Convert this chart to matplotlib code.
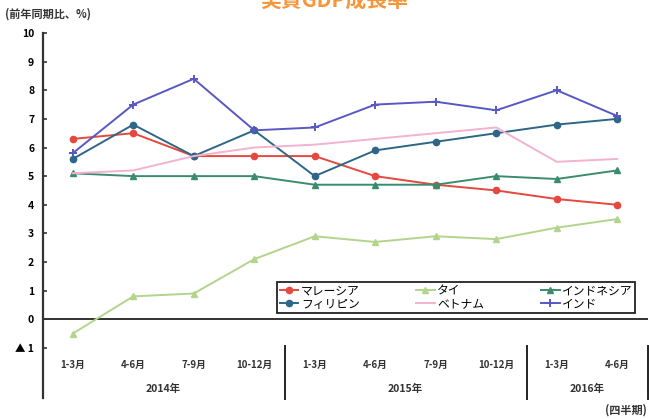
import matplotlib
matplotlib.use("Agg")
import matplotlib.pyplot as plt
import numpy as np

plt.rcParams['font.family'] = ['Noto Sans CJK JP', 'DejaVu Sans']

# data
quarters = ["1-3月", "4-6月", "7-9月", "10-12月",
            "1-3月", "4-6月", "7-9月", "10-12月",
            "1-3月", "4-6月"]
years = ["2014年", "2015年", "2016年"]
year_centers = [1.5, 5.5, 8.5]
year_breaks = [3.5, 7.5, 9.5]

malaysia = [6.3, 6.5, 5.7, 5.7, 5.7, 5.0, 4.7, 4.5, 4.2, 4.0]
thailand = [-0.5, 0.8, 0.9, 2.1, 2.9, 2.7, 2.9, 2.8, 3.2, 3.5]
indonesia = [5.1, 5.0, 5.0, 5.0, 4.7, 4.7, 4.7, 5.0, 4.9, 5.2]
philippines = [5.6, 6.8, 5.7, 6.6, 5.0, 5.9, 6.2, 6.5, 6.8, 7.0]
vietnam = [5.1, 5.2, 5.7, 6.0, 6.1, 6.3, 6.5, 6.7, 5.5, 5.6]
india = [5.8, 7.5, 8.4, 6.6, 6.7, 7.5, 7.6, 7.3, 8.0, 7.1]

yticks = list(range(-1, 11))
ytick_labels = ["▲ 1"] + [str(v) for v in range(0, 11)]

fig = plt.figure(figsize=(6.49, 4.19), dpi=100)
W, H = 649, 419
left, right, top, bottom = 42.5, 647.5, 33, 398
ax = fig.add_axes([left / W, 1 - bottom / H, (right - left) / W, (bottom - top) / H])

x = np.arange(len(quarters))
lw = 1.4
h_mal, = ax.plot(x, malaysia, color="#e5483f", lw=lw, marker="o", ms=4.5, label="マレーシア")
h_tha, = ax.plot(x, thailand, color="#b3d48c", lw=lw, marker="^", ms=4.5, label="タイ")
h_ind, = ax.plot(x, indonesia, color="#3b8c6c", lw=lw, marker="^", ms=4.5, label="インドネシア")
h_phi, = ax.plot(x, philippines, color="#2e6687", lw=lw, marker="o", ms=4.5, label="フィリピン")
h_vie, = ax.plot(x, vietnam, color="#f2b2d0", lw=lw, label="ベトナム")
h_inda, = ax.plot(x, india, color="#5858c4", lw=lw, marker="+", ms=6, mew=1.4, label="インド")

ax.set_xlim(-0.5, 9.5)
ax.set_ylim(-2.75, 10)

# axes styling
for s in ["top", "right", "bottom"]:
    ax.spines[s].set_visible(False)
ax.spines["left"].set_color("#333333")
ax.spines["left"].set_linewidth(1.6)
ax.axhline(0, color="#222222", lw=1.3, zorder=1)

ax.set_yticks(yticks)
ax.set_yticklabels(ytick_labels, fontsize=7.5, fontweight="bold")
ax.tick_params(axis="y", direction="in", length=3, width=1.2, color="#333333", pad=6)
ax.set_xticks([])

# category table under the plot
for xi, q in zip(x, quarters):
    ax.text(xi, -1.6, q, ha="center", va="center", fontsize=7, fontweight="bold", color="#333333")
for xc, yr in zip(year_centers, years):
    ax.text(xc, -2.43, yr, ha="center", va="center", fontsize=7.5, fontweight="bold", color="#333333")
for xb in year_breaks:
    ax.plot([xb, xb], [-0.95, -2.78], color="#222222", lw=1.4, clip_on=False)

leg = ax.legend(handles=[h_mal, h_phi, h_tha, h_vie, h_ind, h_inda], ncol=3,
                loc="lower left", bbox_to_anchor=(0.388, 0.233, 0.591, 0.101),
                mode="expand", borderaxespad=0, fontsize=8.5, handlelength=1.6,
                handletextpad=0.2, labelspacing=0.05, borderpad=0.2,
                fancybox=False, framealpha=1)
leg.get_frame().set_edgecolor("#222222")
leg.get_frame().set_linewidth(1.3)

# title is partly cut off at the top edge, as in the source image
fig.text(334 / W, 1 - 7 / H, "実質GDP成長率", ha="center", va="baseline",
         fontsize=15, fontweight="bold", color="#f7953a")
fig.text(5 / W, 1 - 14 / H, "(前年同期比、%)", ha="left", va="center",
         fontsize=8, fontweight="bold", color="#333333")
fig.text(647 / W, 1 - 410 / H, "(四半期)", ha="right", va="center",
         fontsize=8, fontweight="bold", color="#333333")

fig.savefig("out.png", dpi=100)
